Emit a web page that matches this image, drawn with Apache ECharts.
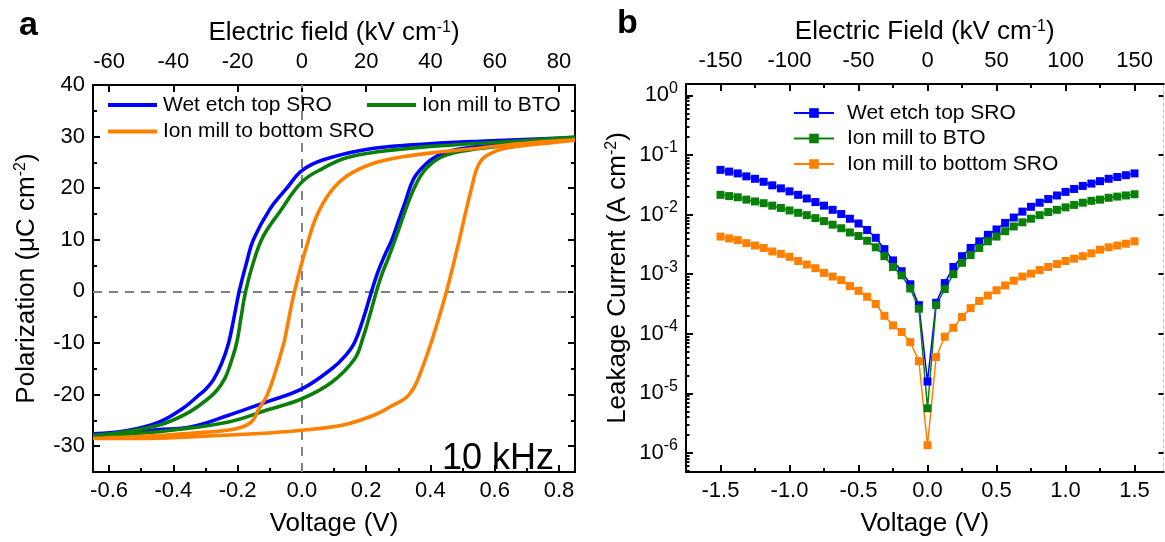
<!DOCTYPE html>
<html>
<head>
<meta charset="utf-8">
<script src="https://cdn.jsdelivr.net/npm/echarts@6/dist/echarts.min.js"></script>
<style>
  html, body { margin: 0; padding: 0; background: #fff; }
  #chart { width: 1165px; height: 542px; }
</style>
</head>
<body>
<div id="chart"></div>
<script>
// ---------- (a) polarization loops at 10 kHz: [voltage V, polarization uC/cm2] ----------
const wetEtchLoop = [
  [0.85, 29.8], [0.554, 29.1], [0.347, 28.4], [0.2, 27.5], [0.067, 25.5], [0, 23.4],
  [-0.047, 20], [-0.1, 15.9], [-0.151, 10], [-0.172, 5.6], [-0.195, 0], [-0.212, -5.3],
  [-0.228, -10], [-0.25, -14], [-0.276, -17.2], [-0.3, -19], [-0.324, -20.3], [-0.371, -22.7],
  [-0.443, -25.3], [-0.538, -26.9], [-0.65, -27.6],
  [-0.538, -27.3], [-0.45, -26.8], [-0.347, -26.3], [-0.228, -24.0], [-0.109, -21.4],
  [0, -18.9], [0.093, -15.0], [0.135, -12.5], [0.164, -9.9], [0.19, -5.5], [0.212, -1],
  [0.235, 3.5], [0.258, 7], [0.28, 10], [0.3, 13.5], [0.321, 17.2], [0.347, 21.7],
  [0.378, 24.2], [0.42, 26.2], [0.482, 27.5], [0.575, 28.2], [0.71, 29.1], [0.85, 29.8]
];
const ionMillBtoLoop = [
  [0.85, 29.9], [0.658, 29.1], [0.4, 28.1], [0.243, 27.1], [0.139, 25.9], [0.067, 23.9],
  [0, 21.2], [-0.068, 15.5], [-0.12, 10.7], [-0.151, 5.6], [-0.175, 0], [-0.19, -5.3],
  [-0.203, -10], [-0.222, -14], [-0.24, -16.9], [-0.265, -19.2], [-0.294, -20.9],
  [-0.359, -23.7], [-0.443, -25.9], [-0.55, -27.2], [-0.65, -27.9],
  [-0.55, -27.7], [-0.407, -26.9], [-0.228, -25.3], [-0.109, -23], [0, -20.8],
  [0.093, -17.6], [0.164, -13.1], [0.19, -9], [0.212, -4.5], [0.232, 0], [0.25, 3.5],
  [0.27, 6.6], [0.29, 10], [0.331, 17.2], [0.357, 21], [0.388, 23.9], [0.43, 25.9],
  [0.492, 27.1], [0.596, 28], [0.72, 28.8], [0.85, 29.9]
];
const ionMillBottomLoop = [
  [0.85, 29.4], [0.71, 28.8], [0.554, 27.8], [0.399, 26.8], [0.295, 25.9], [0.212, 24.6],
  [0.139, 22.3], [0.087, 19.1], [0.046, 14.6], [0.015, 8.8], [-0.011, 3.0], [-0.03, -2],
  [-0.047, -7.3], [-0.056, -10], [-0.086, -16.3], [-0.109, -20.2], [-0.133, -22.7],
  [-0.157, -25.3], [-0.205, -26.6], [-0.347, -27.5], [-0.526, -28.2], [-0.65, -28.5],
  [-0.5, -28.5], [-0.347, -28.2], [-0.15, -27.6], [0, -26.9], [0.128, -25.9], [0.224, -24],
  [0.283, -22.1], [0.31, -21.2], [0.331, -20.2], [0.35, -18.5], [0.366, -16.3], [0.402, -10],
  [0.45, 0], [0.49, 10], [0.528, 20], [0.554, 25], [0.596, 27], [0.658, 28], [0.762, 28.7],
  [0.85, 29.3]
];
const voltTicksA = [-0.6, -0.4, -0.2, 0, 0.2, 0.4, 0.6, 0.8];
const voltMinorA = [-0.5, -0.3, -0.1, 0.1, 0.3, 0.5, 0.7];
const fieldTicksA = [-60, -40, -20, 0, 20, 40, 60, 80];
const polTicks = [-30, -20, -10, 0, 10, 20, 30, 40];
const polMinor = [-25, -15, -5, 5, 15, 25, 35];

// ---------- (b) leakage current vs voltage ----------
const ivVoltage = [
  -1.5, -1.4375, -1.375, -1.3125, -1.25, -1.1875, -1.125, -1.0625, -1, -0.9375, -0.875, -0.8125,
  -0.75, -0.6875, -0.625, -0.5625, -0.5, -0.4375, -0.375, -0.3125, -0.25, -0.1875, -0.125, -0.0625,
  0,
  0.0625, 0.125, 0.1875, 0.25, 0.3125, 0.375, 0.4375, 0.5, 0.5625, 0.625, 0.6875, 0.75,
  0.8125, 0.875, 0.9375, 1, 1.0625, 1.125, 1.1875, 1.25, 1.3125, 1.375, 1.4375, 1.5
];
const wetEtchCurrent = [
  5.62e-2, 5.25e-2, 4.90e-2, 4.37e-2, 3.98e-2, 3.55e-2, 3.09e-2, 2.75e-2, 2.45e-2, 2.14e-2,
  1.86e-2, 1.62e-2, 1.41e-2, 1.20e-2, 1.02e-2, 8.51e-3, 7.08e-3, 5.50e-3, 4.07e-3, 2.63e-3,
  1.70e-3, 1.12e-3, 6.76e-4, 3.02e-4,
  1.58e-5,
  3.31e-4, 7.08e-4, 1.32e-3, 2.00e-3, 2.75e-3, 3.55e-3, 4.57e-3, 5.62e-3, 7.24e-3, 8.91e-3,
  1.12e-2, 1.35e-2, 1.58e-2, 1.82e-2, 2.09e-2, 2.40e-2, 2.69e-2, 3.02e-2, 3.31e-2, 3.63e-2,
  3.98e-2, 4.27e-2, 4.57e-2, 4.90e-2
];
const ionMillBtoCurrent = [
  2.14e-2, 2.04e-2, 1.95e-2, 1.78e-2, 1.66e-2, 1.55e-2, 1.41e-2, 1.29e-2, 1.17e-2, 1.07e-2,
  9.77e-3, 8.71e-3, 7.76e-3, 6.76e-3, 5.89e-3, 5.01e-3, 4.37e-3, 3.63e-3, 2.82e-3, 2.00e-3,
  1.32e-3, 9.55e-4, 5.75e-4, 2.63e-4,
  5.62e-6,
  3.02e-4, 5.62e-4, 1.00e-3, 1.55e-3, 2.09e-3, 2.75e-3, 3.55e-3, 4.27e-3, 5.25e-3, 6.31e-3,
  7.41e-3, 8.51e-3, 9.77e-3, 1.10e-2, 1.20e-2, 1.32e-2, 1.45e-2, 1.58e-2, 1.70e-2, 1.78e-2,
  1.91e-2, 2.00e-2, 2.09e-2, 2.19e-2
];
const ionMillBottomCurrent = [
  4.27e-3, 3.98e-3, 3.72e-3, 3.31e-3, 3.02e-3, 2.75e-3, 2.40e-3, 2.19e-3, 1.95e-3, 1.66e-3,
  1.45e-3, 1.26e-3, 1.05e-3, 9.12e-4, 7.94e-4, 6.31e-4, 5.25e-4, 4.17e-4, 3.16e-4, 2.00e-4,
  1.38e-4, 1.07e-4, 7.24e-5, 3.47e-5,
  1.35e-6,
  4.07e-5, 8.91e-5, 1.26e-4, 1.91e-4, 2.69e-4, 3.55e-4, 4.37e-4, 5.37e-4, 6.46e-4, 7.76e-4,
  9.12e-4, 1.02e-3, 1.17e-3, 1.32e-3, 1.48e-3, 1.66e-3, 1.82e-3, 2.00e-3, 2.24e-3, 2.57e-3,
  2.82e-3, 3.02e-3, 3.24e-3, 3.55e-3
];
const voltTicksB = [-1.5, -1, -0.5, 0, 0.5, 1, 1.5];
const voltMinorB = [-1.25, -0.75, -0.25, 0.25, 0.75, 1.25];
const fieldTicksB = [-150, -100, -50, 0, 50, 100, 150];
const fieldMinorB = [-125, -75, -25, 25, 75, 125];
const currentDecades = [1e-6, 1e-5, 1e-4, 1e-3, 1e-2, 1e-1, 1];

const sampleNames = ['Wet etch top SRO', 'Ion mill to BTO', 'Ion mill to bottom SRO'];
const sampleColors = ['#0000ff', '#0a800a', '#ff8000'];

// ---------- styling helpers ----------
const FONT = '"Liberation Sans", Arial, sans-serif';
const BLACK = '#000';
const TICK_FONT = 22;
const NAME_FONT = 26;
const nameStyle = {
  fontSize: NAME_FONT, fontFamily: FONT, color: BLACK,
  rich: { sup: { fontSize: 16, fontFamily: FONT, color: BLACK, padding: [0, 0, 12, 0] } }
};
const labelStyle = { fontSize: TICK_FONT, fontFamily: FONT, color: BLACK };

// log-axis minor ticks (2..9 within each decade)
const logMinor = [];
for (let e = -7; e <= 0; e++) {
  for (let m = 2; m <= 9; m++) logMinor.push(+(m * Math.pow(10, e)).toPrecision(3));
}

// Every axis (including the extra ones that only carry minor ticks) draws its own
// frame line; the minor-tick axes sit exactly on top of their main axis.
function axis(o) {
  const a = {
    type: o.type || 'value',
    gridIndex: o.grid,
    position: o.pos,
    min: o.min,
    max: o.max,
    splitLine: { show: false },
    axisLine: {
      show: true, onZero: false,
      lineStyle: Object.assign({ color: BLACK, width: 2 }, o.lineStyle || {})
    },
    axisTick: {
      show: true, inside: true, length: o.tickLen || 7,
      customValues: o.ticks, lineStyle: { color: BLACK, width: 2 }
    },
    axisLabel: o.labels ? Object.assign({
      show: true, customValues: o.labels, margin: o.margin || 8, formatter: o.fmt
    }, labelStyle, o.rich ? { rich: o.rich } : {}) : { show: false }
  };
  if (o.type === 'log') a.logBase = 10;
  if (o.name) {
    a.name = o.name;
    a.nameLocation = 'middle';
    a.nameGap = o.nameGap;
    a.nameTextStyle = nameStyle;
  }
  return a;
}

const fmt1 = (v) => v.toFixed(1);
const fmtInt = (v) => String(Math.round(v));
const fmtPow = (v) => '10{e|' + Math.round(Math.log10(v)) + '}';

const GA = { left: 93, top: 85, width: 482, height: 389 };
const GB = { left: 686, top: 84, width: 477.5, height: 389 };

const xAxes = [
  // (a) bottom: voltage
  axis({ grid: 0, pos: 'bottom', min: -0.65, max: 0.85, ticks: voltTicksA, labels: voltTicksA, fmt: fmt1,
         name: 'Voltage (V)', nameGap: 39 }),
  axis({ grid: 0, pos: 'bottom', min: -0.65, max: 0.85, ticks: voltMinorA, tickLen: 4 }),
  // (a) top: electric field
  axis({ grid: 0, pos: 'top', min: -65, max: 85, ticks: fieldTicksA, labels: fieldTicksA, fmt: fmtInt,
         margin: 12, name: 'Electric field (kV cm{sup|-1})', nameGap: 37 }),
  // (b) bottom: voltage
  axis({ grid: 1, pos: 'bottom', min: -1.75, max: 1.71, ticks: voltTicksB, labels: voltTicksB, fmt: fmt1,
         name: 'Voltage (V)', nameGap: 39 }),
  axis({ grid: 1, pos: 'bottom', min: -1.75, max: 1.71, ticks: voltMinorB, tickLen: 4 }),
  // (b) top: electric field
  axis({ grid: 1, pos: 'top', min: -175, max: 171, ticks: fieldTicksB, labels: fieldTicksB, fmt: fmtInt,
         margin: 12, name: 'Electric Field (kV cm{sup|-1})', nameGap: 37 }),
  axis({ grid: 1, pos: 'top', min: -175, max: 171, ticks: fieldMinorB, tickLen: 4 })
];

const yAxes = [
  // (a) polarization
  axis({ grid: 0, pos: 'left', min: -35, max: 40, ticks: polTicks, labels: polTicks, fmt: fmtInt,
         name: 'Polarization (μC cm{sup|-2})', nameGap: 52 }),
  axis({ grid: 0, pos: 'left', min: -35, max: 40, ticks: polMinor, tickLen: 4 }),
  axis({ grid: 0, pos: 'right', min: -35, max: 40, ticks: polTicks }),
  axis({ grid: 0, pos: 'right', min: -35, max: 40, ticks: polMinor, tickLen: 4 }),
  // (b) leakage current, log scale
  axis({ grid: 1, pos: 'left', type: 'log', min: 4.79e-7, max: 1.55, ticks: currentDecades,
         labels: currentDecades, fmt: fmtPow,
         rich: { e: { fontSize: 16, fontFamily: FONT, color: BLACK, padding: [0, 0, 14, 0] } },
         name: 'Leakage Current (A cm{sup|-2})', nameGap: 54 }),
  axis({ grid: 1, pos: 'left', type: 'log', min: 4.79e-7, max: 1.55, ticks: logMinor, tickLen: 3.5 }),
  axis({ grid: 1, pos: 'right', type: 'log', min: 4.79e-7, max: 1.55, ticks: currentDecades, tickLen: 5,
         lineStyle: { color: '#c4c4c4', width: 1, type: [3, 3] } })
];

const loops = [wetEtchLoop, ionMillBtoLoop, ionMillBottomLoop];
const currents = [wetEtchCurrent, ionMillBtoCurrent, ionMillBottomCurrent];

const series = [];
loops.forEach((loop, i) => {
  series.push({
    type: 'line', name: 'PV|' + sampleNames[i], xAxisIndex: 0, yAxisIndex: 0,
    data: loop, symbol: 'none', smooth: 0.4, z: 3,
    lineStyle: { color: sampleColors[i], width: 3.6 }, itemStyle: { color: sampleColors[i] },
    markLine: i === 0 ? {
      silent: true, symbol: 'none', label: { show: false }, z: 1,
      lineStyle: { color: '#808080', width: 2, type: [9, 7] },
      data: [{ xAxis: 0 }, { yAxis: 0 }]
    } : undefined
  });
});
currents.forEach((cur, i) => {
  series.push({
    type: 'line', name: 'IV|' + sampleNames[i], xAxisIndex: 3, yAxisIndex: 4,
    data: ivVoltage.map((v, k) => [v, cur[k]]),
    symbol: 'rect', symbolSize: 8, showSymbol: true,
    lineStyle: { color: sampleColors[i], width: 1.5 }, itemStyle: { color: sampleColors[i] }
  });
});

const legendText = (n) => n.split('|')[1];
const legendBase = {
  orient: 'horizontal', padding: 0, itemGap: 0, selectedMode: false, formatter: legendText,
  textStyle: { fontSize: 21, fontFamily: FONT, color: BLACK, padding: [0, 0, 0, 1] }
};
const lineIcon = { icon: 'rect', itemWidth: 49, itemHeight: 4 };
const legends = [
  Object.assign({}, legendBase, lineIcon, { left: 108, top: 94.5, data: ['PV|' + sampleNames[0]] }),
  Object.assign({}, legendBase, lineIcon, { left: 367, top: 94.5, data: ['PV|' + sampleNames[1]] }),
  Object.assign({}, legendBase, lineIcon, { left: 108, top: 121, data: ['PV|' + sampleNames[2]] }),
  Object.assign({}, legendBase, {
    orient: 'vertical', left: 793, top: 102.5, itemWidth: 40, itemHeight: 12, itemGap: 4.5,
    textStyle: Object.assign({}, legendBase.textStyle, { padding: [0, 0, 0, 8] }),
    data: sampleNames.map((n) => 'IV|' + n)
  })
];

const chart = echarts.init(document.getElementById('chart'), null, { renderer: 'canvas' });
chart.setOption({
  animation: false,
  backgroundColor: '#fff',
  grid: [Object.assign({ containLabel: false }, GA), Object.assign({ containLabel: false }, GB)],
  xAxis: xAxes,
  yAxis: yAxes,
  legend: legends,
  series: series,
  graphic: [
    { type: 'text', left: 19, top: 9, style: { text: 'a', font: 'bold 34px ' + FONT, fill: BLACK } },
    { type: 'text', left: 617, top: 7, style: { text: 'b', font: 'bold 34px ' + FONT, fill: BLACK } },
    { type: 'text', left: 442, top: 441, style: { text: '10 kHz', font: '36px ' + FONT, fill: BLACK } }
  ]
});
</script>
</body>
</html>
